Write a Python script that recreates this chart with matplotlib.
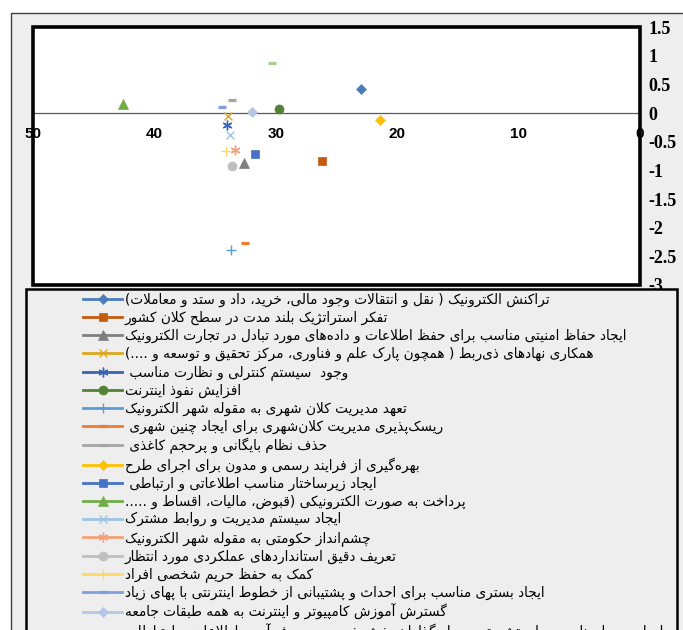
import numpy as np
import matplotlib
matplotlib.use('Agg')
import matplotlib.pyplot as plt
from matplotlib.patches import Rectangle

# ---- data ----
labels = [
    'تراکنش الکترونیک ( نقل و انتقالات وجود مالی، خرید، داد و ستد و معاملات)',
    'تفکر استراتژیک بلند مدت در سطح کلان کشور',
    'ایجاد حفاظ امنیتی مناسب برای حفظ اطلاعات و داده\u200cهای مورد تبادل در تجارت الکترونیک',
    'همکاری نهادهای ذی\u200cربط ( همچون پارک علم و فناوری، مرکز تحقیق و توسعه و ....)',
    'وجود  سیستم کنترلی و نظارت مناسب ',
    'افزایش نفوذ اینترنت',
    'تعهد مدیریت کلان شهری به مقوله شهر الکترونیک',
    'ریسک\u200cپذیری مدیریت کلان\u200cشهری برای ایجاد چنین شهری ',
    'حذف نظام بایگانی و پرحجم کاغذی ',
    'بهره\u200cگیری از فرایند رسمی و مدون برای اجرای طرح',
    'ایجاد زیرساختار مناسب اطلاعاتی و ارتباطی ',
    'پرداخت به صورت الکترونیکی (قبوض، مالیات، اقساط و .....',
    'ایجاد سیستم مدیریت و روابط مشترک',
    'چشم\u200cانداز حکومتی به مقوله شهر الکترونیک',
    'تعریف دقیق استانداردهای عملکردی مورد انتظار',
    'کمک به حفظ حریم شخصی افراد',
    'ایجاد بستری مناسب برای احداث و پشتیبانی از خطوط اینترنتی با پهای زیاد',
    'گسترش آموزش کامپیوتر و اینترنت به همه طبقات جامعه',
    'ایجاد محیط مناسب برای تشویق سرمایه\u200cگذاران بخش خصوصی در فن\u200cآوری اطلاعات و ارتباطات',
]
x_vals = [23.0, 26.2, 32.6, 33.9, 34.0, 29.7, 33.7, 32.5, 33.6, 21.4,
          31.7, 42.6, 33.75, 33.4, 33.6, 34.1, 34.4, 31.95, 30.3]
y_vals = [0.42, -0.83, -0.87, -0.05, -0.21, 0.07, -2.39, -2.27, 0.22, -0.12,
          -0.71, 0.15, -0.38, -0.65, -0.93, -0.665, 0.10, 0.02, 0.88]
x_ticks = [50, 40, 30, 20, 10, 0]
x_tick_labels = ['50', '40', '30', '20', '10', '0']
y_ticks = [-3, -2.5, -2, -1.5, -1, -0.5, 0, 0.5, 1, 1.5]
y_tick_labels = ['-3', '-2.5', '-2', '-1.5', '-1', '-0.5', '0', '0.5', '1', '1.5']

colors = ['#4A7EBB', '#C55A11', '#7F7F7F', '#D9A81E', '#3A62B0', '#548235',
          '#5B9BD5', '#ED7D31', '#A5A5A5', '#FFC000', '#4472C4', '#70AD47',
          '#9DC3E6', '#F4A07A', '#BFBFBF', '#FFD966', '#7F9FDC', '#B4C7E7', '#A9D18E']
markers = ['D', 's', '^', 'x', (6, 2, 0), 'o', '+', '_', '_', 'D',
           's', '^', 'x', (6, 2, 0), 'o', '+', '_', 'D', '_']


# ---- simple arabic/persian shaping (matplotlib has no bidi/shaping) ----
_dual = {'ئ': 0xFE89, 'ب': 0xFE8F, 'ت': 0xFE95, 'ث': 0xFE99, 'ج': 0xFE9D, 'ح': 0xFEA1,
         'خ': 0xFEA5, 'س': 0xFEB1, 'ش': 0xFEB5, 'ص': 0xFEB9, 'ض': 0xFEBD, 'ط': 0xFEC1,
         'ظ': 0xFEC5, 'ع': 0xFEC9, 'غ': 0xFECD, 'ف': 0xFED1, 'ق': 0xFED5, 'ك': 0xFED9,
         'ل': 0xFEDD, 'م': 0xFEE1, 'ن': 0xFEE5, 'ه': 0xFEE9, 'ي': 0xFEF1,
         'پ': 0xFB56, 'چ': 0xFB7A, 'ک': 0xFB8E, 'گ': 0xFB92, 'ی': 0xFBFC}
_right = {'آ': 0xFE81, 'أ': 0xFE83, 'ؤ': 0xFE85, 'إ': 0xFE87, 'ا': 0xFE8D, 'ة': 0xFE93,
          'د': 0xFEA9, 'ذ': 0xFEAB, 'ر': 0xFEAD, 'ز': 0xFEAF, 'و': 0xFEED, 'ى': 0xFEEF,
          'ژ': 0xFB8A}
_mirror = {'(': ')', ')': '('}


def shape(s):
    res = []
    prev = False
    i = 0
    while i < len(s):
        c = s[i]
        nxt = s[i + 1] if i + 1 < len(s) else ''
        if c == 'ل' and nxt in ('ا', 'آ'):
            base = 0xFEFB if nxt == 'ا' else 0xFEF5
            res.append(chr(base + (1 if prev else 0)))
            prev = False
            i += 2
            continue
        if c in _dual:
            jn = nxt in _dual or nxt in _right
            b = _dual[c]
            g = b + 3 if (prev and jn) else b + 1 if prev else b + 2 if jn else b
            res.append(chr(g))
            prev = jn
        elif c in _right:
            res.append(chr(_right[c] + (1 if prev else 0)))
            prev = False
        else:
            if c != '\u200c':
                res.append(_mirror.get(c, c))
            prev = False
        i += 1
    return ''.join(reversed(res))


W, H = 683, 630
fig = plt.figure(figsize=(W / 100, H / 100), dpi=100)
fig.patch.set_facecolor('white')

# chart area
fig.add_artist(Rectangle((11 / W, -0.1), 1.0, 1.1 - 13 / H, transform=fig.transFigure,
                         fc='#EEEEEE', ec='#404040', lw=1, zorder=-10))

ax = fig.add_axes([33 / W, 1 - 285 / H, 607 / W, 258 / H])
ax.set_facecolor('white')

sizes = {'D': 5, 's': 6, '^': 6.5, 'o': 6.5, 'x': 6, '+': 7, '_': 6}
for i in range(len(labels)):
    m = markers[i]
    thin = m in ('x', '+') or isinstance(m, tuple)
    ms = 7 if isinstance(m, tuple) else sizes[m]
    mew = 2.3 if m == '_' else (1.0 if thin else 0.5)
    ax.plot([x_vals[i]], [y_vals[i]], ls='-', lw=2, color=colors[i], marker=m,
            markersize=ms, markeredgewidth=mew, markerfacecolor=colors[i],
            markeredgecolor=colors[i], label=shape(labels[i]), zorder=3)

ax.set_xlim(50, 0)
ax.set_ylim(-3, 1.5)

# zero line with x labels, thick frame around plot
for sp in ['top', 'left', 'right']:
    ax.spines[sp].set_visible(False)
ax.spines['bottom'].set_position(('data', 0))
ax.spines['bottom'].set_color('#595959')
ax.spines['bottom'].set_linewidth(0.9)
ax.add_patch(Rectangle((0, 0), 1, 1, transform=ax.transAxes, fill=False,
                       ec='black', lw=2.6, clip_on=False, zorder=4))

ax.set_xticks(x_ticks)
ax.set_xticklabels(x_tick_labels, fontfamily='Liberation Sans', fontweight='bold', fontsize=11)
ax.tick_params(axis='x', length=0, pad=10)
ax.yaxis.tick_right()
ax.set_yticks(y_ticks)
ax.set_yticklabels(y_tick_labels, fontfamily='Liberation Serif', fontweight='bold', fontsize=13)
ax.tick_params(axis='y', length=0, pad=6)

# legend box
fig.add_artist(Rectangle((26 / W, -0.1), 651 / W, 1.1 - 289 / H, transform=fig.transFigure,
                         fc='#EEEEEE', ec='black', lw=1.8, zorder=4))
leg = fig.legend(loc='upper left', bbox_to_anchor=(83 / W, 1 - 293 / H), frameon=False,
                 borderpad=0, borderaxespad=0, handlelength=2.9, handletextpad=0.15,
                 labelspacing=0.27, numpoints=1,
                 prop={'family': 'DejaVu Sans', 'size': 9.8})
leg.set_zorder(5)

fig.savefig('out.png', dpi=100)
